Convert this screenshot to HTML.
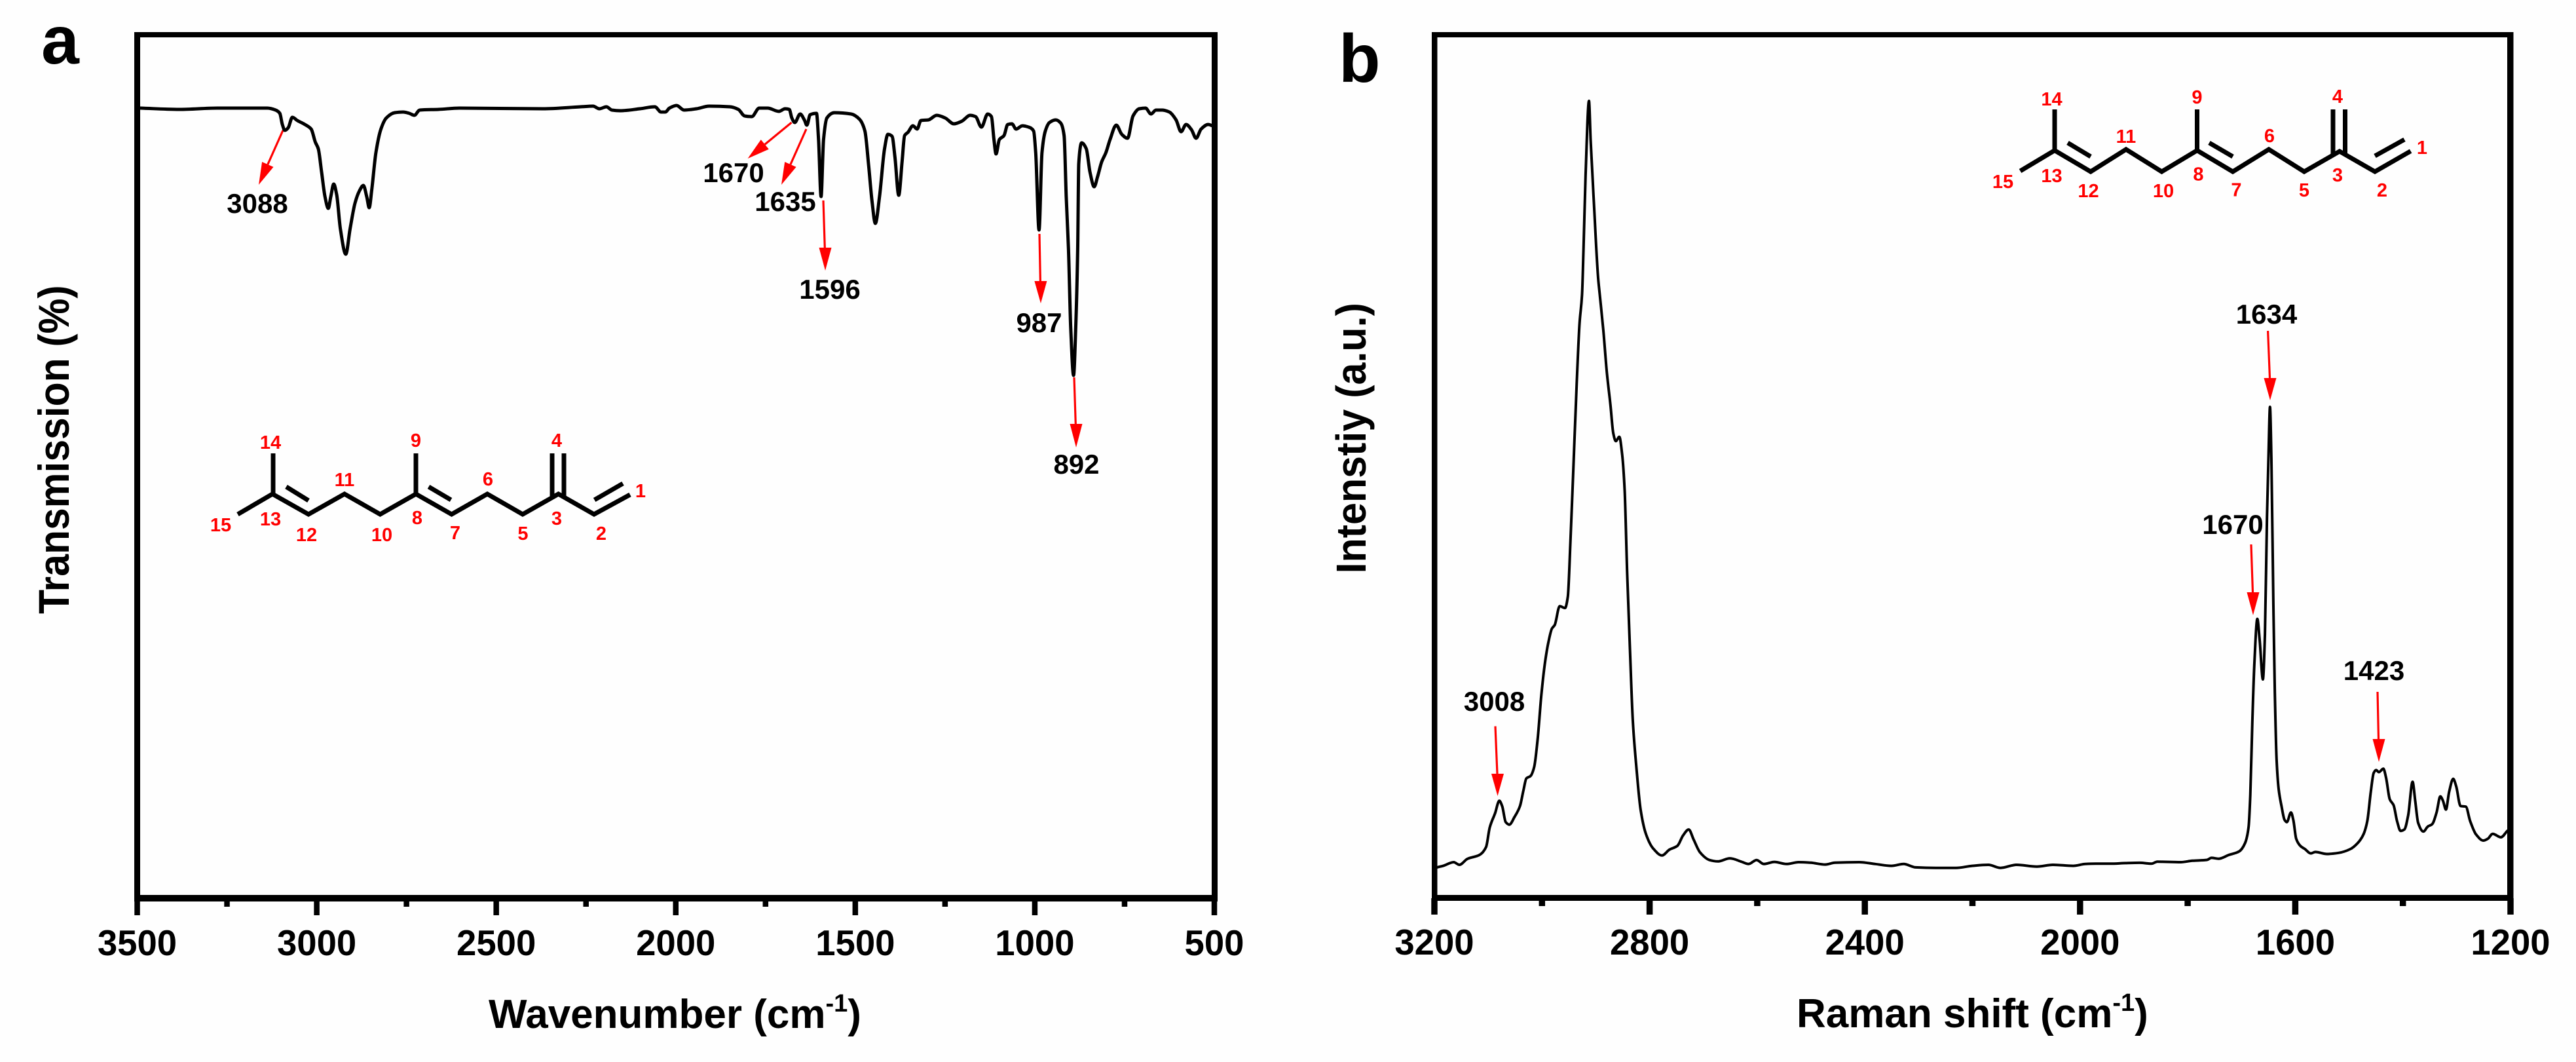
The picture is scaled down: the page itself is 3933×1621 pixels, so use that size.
<!DOCTYPE html>
<html lang="en">
<head>
<meta charset="utf-8">
<title>FTIR and Raman spectra</title>
<style>
html,body{margin:0;padding:0;background:#fefefe;}
svg{display:block;}
text{font-family:"Liberation Sans",Arial,sans-serif;font-weight:bold;fill:#000;}
.ann{font-size:42px;text-anchor:middle;}
.num{font-size:29px;text-anchor:middle;fill:#f00;}
.arr line{stroke:#f00;stroke-width:3.2;}
.arr polygon{fill:#f00;}
.mol{fill:none;stroke:#000;stroke-width:7;stroke-linejoin:miter;}
</style>
</head>
<body>
<svg id="fig" xmlns="http://www.w3.org/2000/svg" width="3933" height="1621" viewBox="0 0 3933 1621">
<rect x="0" y="0" width="3933" height="1621" fill="#fefefe"/>

<g id="panelA">
  <text x="63" y="97" font-size="104">a</text>
  <rect x="205" y="49" width="1654" height="8" fill="#000"/>
  <rect x="205" y="49" width="9" height="1327" fill="#000"/>
  <rect x="1850" y="49" width="9" height="1327" fill="#000"/>
  <rect x="205" y="1366" width="1654" height="10" fill="#000"/>
  <text x="746" y="1569" font-size="62">Wavenumber (cm<tspan font-size="38" dy="-25">-1</tspan><tspan dy="25">)</tspan></text>
  <text transform="translate(105,937) rotate(-90) scale(1,1.09)" x="0" y="0" font-size="60.6">Transmission (%)</text>

  <g class="arr"><line x1="432" y1="199" x2="408.8" y2="251"/><polygon points="395,282 417.5,254.9 400.1,247.1"/></g>
  <text class="ann" x="393" y="325">3088</text>
  <g class="arr"><line x1="1208.5" y1="187" x2="1167.8" y2="220.4"/><polygon points="1141.6,242 1173.8,227.7 1161.8,213.1"/></g>
  <text class="ann" x="1120" y="278">1670</text>
  <g class="arr"><line x1="1231" y1="197" x2="1206.9" y2="251"/><polygon points="1193,282 1215.6,254.9 1198.2,247.1"/></g>
  <text class="ann" x="1199" y="322">1635</text>
  <g class="arr"><line x1="1257" y1="306" x2="1259.3" y2="378"/><polygon points="1260,413 1269.5,378 1250.5,378"/></g>
  <text class="ann" x="1267" y="456">1596</text>
  <g class="arr"><line x1="1587" y1="357" x2="1588.4" y2="429"/><polygon points="1589,463 1598.4,429 1579.4,429"/></g>
  <text class="ann" x="1586.5" y="507">987</text>
  <g class="arr"><line x1="1640" y1="576" x2="1642.3" y2="647"/><polygon points="1643,683 1652.5,647 1633.5,647"/></g>
  <text class="ann" x="1643.5" y="723">892</text>

  <g>
    <polyline class="mol" points="363,785 416,754 471,785 526,754 580.4,785 635,754 689.5,785 744,754 798,785 852.6,754 907,785 962,755"/>
    <line class="mol" x1="417" y1="692" x2="417" y2="755"/>
    <line class="mol" x1="635" y1="692" x2="635" y2="755"/>
    <line class="mol" x1="843" y1="692" x2="843" y2="759"/>
    <line class="mol" x1="861" y1="692" x2="861" y2="759"/>
    <line class="mol" x1="437" y1="743" x2="471" y2="764"/>
    <line class="mol" x1="654.5" y1="743" x2="688.5" y2="763"/>
    <line class="mol" x1="907.6" y1="763" x2="951" y2="738"/>
    <text class="num" x="413" y="685">14</text><text class="num" x="635" y="682">9</text><text class="num" x="850" y="682">4</text>
    <text class="num" x="526" y="742">11</text><text class="num" x="745" y="741">6</text><text class="num" x="978" y="759">1</text>
    <text class="num" x="413" y="802">13</text><text class="num" x="637" y="800">8</text><text class="num" x="850" y="801">3</text>
    <text class="num" x="337" y="811">15</text><text class="num" x="468" y="826">12</text><text class="num" x="583" y="826">10</text>
    <text class="num" x="695" y="823">7</text><text class="num" x="798.5" y="824">5</text><text class="num" x="918" y="824">2</text>
  </g>
</g>

<g id="panelB">
  <text x="2044" y="125" font-size="104">b</text>
  <rect x="2186" y="49" width="1651.5" height="8" fill="#000"/>
  <rect x="2186" y="49" width="8.5" height="1326" fill="#000"/>
  <rect x="3828" y="49" width="9.5" height="1326" fill="#000"/>
  <rect x="2186" y="1366" width="1651.5" height="9" fill="#000"/>
  <text x="2743" y="1568" font-size="62">Raman shift (cm<tspan font-size="38" dy="-25">-1</tspan><tspan dy="25">)</tspan></text>
  <text transform="translate(2085,875.5) rotate(-90) scale(1,1.05)" x="0" y="0" font-size="61">Intenstiy (a.u.)</text>

  <g class="arr"><line x1="2283" y1="1108.5" x2="2286" y2="1181"/><polygon points="2286.5,1215 2296,1181 2277,1181"/></g>
  <text class="ann" x="2281.5" y="1085">3008</text>
  <g class="arr"><line x1="3437" y1="831" x2="3439.5" y2="904"/><polygon points="3440,939 3449.5,904 3430.5,904"/></g>
  <text class="ann" x="3409" y="815">1670</text>
  <g class="arr"><line x1="3630" y1="1056" x2="3631.5" y2="1128"/><polygon points="3632,1163 3641.5,1128 3622.5,1128"/></g>
  <text class="ann" x="3624.5" y="1038">1423</text>
  <g class="arr"><line x1="3462.6" y1="505" x2="3465.5" y2="577"/><polygon points="3466,611 3475.5,577 3456.5,577"/></g>
  <text class="ann" x="3460.5" y="494">1634</text>

  <g>
    <polyline class="mol" points="3084.5,261 3137,229.6 3192,262 3246,228 3300.5,262 3354.5,229.6 3409,262 3464,228 3518,262 3572,231 3626,262 3680.6,230.6"/>
    <line class="mol" x1="3137" y1="167" x2="3137" y2="231"/>
    <line class="mol" x1="3354.5" y1="167" x2="3354.5" y2="231"/>
    <line class="mol" x1="3562" y1="167" x2="3562" y2="236"/>
    <line class="mol" x1="3580.5" y1="167" x2="3580.5" y2="236"/>
    <line class="mol" x1="3157" y1="218" x2="3192" y2="239"/>
    <line class="mol" x1="3373" y1="218" x2="3409" y2="239"/>
    <line class="mol" x1="3626" y1="238" x2="3671" y2="213"/>
    <text class="num" x="3132.5" y="161">14</text><text class="num" x="3354.5" y="158">9</text><text class="num" x="3569" y="157">4</text>
    <text class="num" x="3246" y="218">11</text><text class="num" x="3465" y="217">6</text><text class="num" x="3698" y="235">1</text>
    <text class="num" x="3132.5" y="278">13</text><text class="num" x="3356.5" y="275.5">8</text><text class="num" x="3569" y="277">3</text>
    <text class="num" x="3058" y="287">15</text><text class="num" x="3188.5" y="301">12</text><text class="num" x="3303" y="301">10</text>
    <text class="num" x="3414.5" y="299.5">7</text><text class="num" x="3518" y="300">5</text><text class="num" x="3637" y="300">2</text>
  </g>
</g>

<script>
const ftirMajorTicks = [3500, 3000, 2500, 2000, 1500, 1000, 500];
const ftirMinorTicks = [3250, 2750, 2250, 1750, 1250, 750];
const ramanMajorTicks = [3200, 2800, 2400, 2000, 1600, 1200];
const ramanMinorTicks = [3000, 2600, 2200, 1800, 1400];

const ftirWavenumber = [
3491.3,3381.9,3277.2,3137.7,3114.4,3102.8,3095.8,3088.8,3079.5,3067.9,
3053.9,3033,3015.5,3003.9,2995.7,2986.4,2977.1,2967.8,2960.8,2952.7,
2944.5,2934,2919,2907.3,2893.4,2881.7,2870.1,2860.8,2853.8,2846.8,
2835.2,2821.2,2806.1,2782.9,2759.6,2742.2,2728.2,2713.1,2660.7,2602.6,
2370,2265.3,2230.4,2212.9,2193.1,2178,2154.7,2100,2058.3,2040.9,
2029.2,2017.6,1997.8,1976.9,1942,1907.1,1848.9,1825.7,1808.2,1788.4,
1767.5,1744.2,1712.8,1695.4,1683.8,1676.8,1668.6,1653.5,1641.9,1634.9,
1625.6,1608.1,1602.3,1595.3,1588.4,1579,1558.1,1511.6,1488.3,1473.2,
1462.7,1453.4,1444.1,1432.5,1418.5,1409.2,1397.6,1389.5,1379,1369.7,
1362.7,1353.4,1339.4,1327.8,1317.3,1296.4,1273.1,1249.9,1225.4,1203.3,
1180.1,1165,1148.7,1131.2,1120.8,1113.8,1108,1098.7,1085.9,1075.4,
1063.8,1052.1,1034.7,1017.2,1003.3,997.5,988.2,980,970.7,959.1,
941.7,927.6,918.4,912.5,906.2,900,892,886,880.5,877.6,
869.5,856.7,846.2,834.6,825.3,813.7,802,790.4,773,757.8,
741.6,726.4,709,691.5,676.4,662.5,645,625.2,606.6,592.6,
578.7,563.6,550.8,536.8,517,505.4];
const ftirTransmission = [
120.6,120.4,120.6,120.6,120.3,119.8,118.1,117.2,117.6,119.2,
118.7,118.1,117.4,115.4,114.4,110.8,107.1,105.3,107.1,109,
107.4,102.1,98.3,102.1,106.1,107.9,108.8,107.1,105.4,108.1,
113.8,117.4,119.1,119.9,120,119.8,119.5,120.3,120.4,120.6,
120.5,120.8,120.9,120.5,120.8,120.3,120.2,120.5,120.8,120,
120,120.6,121,120.3,120.5,120.9,120.8,120.4,119.4,119.3,
120.6,120.6,120.1,120.5,120.4,119.1,118.4,119.7,118.8,118,
119.6,119.8,115.8,107.1,115.8,119.1,119.9,119.7,118.9,117.1,
111.8,106.4,103,107.1,114.4,116.6,116.3,113.1,107.3,112.4,
116.4,116.9,117.9,117.4,118.7,118.8,119.5,119.1,118.2,118.6,
119.5,119.3,117.7,119.7,119.3,115.8,113.6,115.8,116.4,118.1,
118.2,117.4,117.9,117.7,117.1,113.8,102,113.8,117.1,118.4,
118.8,118.3,116.4,107.1,99.1,87.1,79.8,87.1,99.1,112.1,
115.3,114.4,110.8,108.6,110.1,112.4,113.8,115.8,118,116.6,
116,119.4,120.5,120.6,119.7,120.3,120.3,120,118.8,117,
118.1,117.3,116,117.4,118.1,117.9];

const ramanShift = [
3195.6,3183.6,3164.1,3153.6,3138.6,3116.1,3104,3097.1,3087.2,3079.3,
3074,3067.4,3060.8,3050.9,3041,3034.4,3029.1,3021.2,3014.6,3008,
3001.4,2994.8,2988.3,2981.6,2976.4,2967.1,2957.2,2952,2947.3,2942,
2935.5,2930.2,2925.6,2922.8,2919,2912.7,2909.6,2903.4,2895.7,2892.6,
2886,2879.4,2872.8,2867.5,2862.9,2856.3,2851,2846.4,2841.8,2836.5,
2831.2,2824.6,2816.7,2806.8,2793.5,2776.9,2763.4,2748.3,2737.8,2727.3,
2718.3,2706.3,2688.3,2673.3,2650.8,2628.3,2616.2,2601.2,2587.7,2568.2,
2545.7,2523.2,2500.7,2473.6,2455.7,2410.6,2380.6,2350.6,2328,2305.6,
2268,2230.5,2200.5,2170.5,2148,2118,2080.4,2050.4,2012.9,1990.3,
1970.5,1943.3,1916.2,1889,1867.3,1856.4,1812.9,1791.2,1764,1755.9,
1742.3,1723.3,1704.2,1693.4,1686.8,1683.6,1679.8,1676,1670.5,1666.2,
1660.2,1656.4,1652.6,1649.9,1647,1644.4,1640.7,1638,1634.7,1630.9,
1625.4,1620,1615.7,1608,1603.7,1598.3,1590.1,1582,1571.1,1562.9,
1541.2,1519.5,1497.7,1484.2,1473.3,1466.2,1459.7,1454.3,1449.9,1444.5,
1436.3,1431.4,1424.4,1417.3,1410.8,1404.3,1397.2,1390.2,1382,1377.1,
1371.7,1361.9,1353.7,1345.6,1337.4,1330.4,1325.5,1320,1314.1,1306.5,
1301,1292.9,1283.1,1274.9,1264.1,1250.5,1242.3,1233.1,1217.9,1206];
const ramanIntensity = [
47,49.4,55,51,60.1,66.1,78,108,129.7,148.7,
140.5,116.1,112.3,124.3,140.5,164.9,182.8,186.6,200.1,243.5,
308.5,357.3,389.8,411.5,417,445.7,443,460.3,541.6,650,
785.5,877.6,921,992,1103,1217,1157,1059,947,921,
866.8,801.8,753,709.6,697.7,704.2,677.1,622.9,498.2,379,
270.6,200.1,135.1,98,76,65.3,74,80,95.8,104.9,
89.8,70,58.2,56.2,60.9,55.4,52.2,58.2,52.2,55.4,
52.2,55,54.2,51.4,54.2,55,52.2,49.4,52.2,47.1,
46.3,46.3,49.4,51,46.3,51,48.3,51,49.4,52.2,
52.7,52.7,53.6,54.1,52.7,55.8,55,57.2,58.5,61.6,
60.3,66.1,71.5,84,108.5,157.6,269.2,358.5,426.4,394.2,
334,403.2,581.7,671,750,671,447.8,313.9,211.2,166.6,
139.8,119.7,116.1,130.9,119.7,90.7,79.5,75,68.4,70.6,
67.5,69.2,75,84,97.4,117.5,162.1,191.1,195.6,192.5,
197.8,184.4,151,142,117.5,102.7,105,126.4,177.7,148.7,
115.2,101.8,109.4,113,130.9,155.4,148.7,135.3,162.1,182.2,
171,140.7,139.8,117.5,97.4,88,90.7,98.3,93,102.7];

const SVGNS = 'http://www.w3.org/2000/svg';
function scale(d0, d1, r0, r1) {
  return function (v) { return r0 + (v - d0) / (d1 - d0) * (r1 - r0); };
}
const xA = scale(3500, 500, 209.5, 1854);
const yA = scale(0, 131.8, 1371, 53);
const xB = scale(3200, 1200, 2190, 3833);
const yB = scale(0, 1318, 1371, 53);

function monotonePath(px, py) {
  const n = px.length, dx = [], m = [], t = [];
  for (let i = 0; i < n - 1; i++) {
    dx[i] = px[i + 1] - px[i];
    m[i] = (py[i + 1] - py[i]) / dx[i];
  }
  t[0] = m[0];
  t[n - 1] = m[n - 2];
  for (let i = 1; i < n - 1; i++) {
    if (m[i - 1] * m[i] <= 0) { t[i] = 0; }
    else {
      const w1 = 2 * dx[i] + dx[i - 1], w2 = dx[i] + 2 * dx[i - 1];
      t[i] = (w1 + w2) / (w1 / m[i - 1] + w2 / m[i]);
    }
  }
  let d = 'M' + px[0].toFixed(2) + ' ' + py[0].toFixed(2);
  for (let i = 0; i < n - 1; i++) {
    const h = dx[i] / 3;
    d += 'C' + (px[i] + h).toFixed(2) + ' ' + (py[i] + t[i] * h).toFixed(2) + ' ' +
         (px[i + 1] - h).toFixed(2) + ' ' + (py[i + 1] - t[i + 1] * h).toFixed(2) + ' ' +
         px[i + 1].toFixed(2) + ' ' + py[i + 1].toFixed(2);
  }
  return d;
}

function drawTicks(parent, ticks, xFn, y0, y1, width) {
  ticks.forEach(function (v) {
    const r = document.createElementNS(SVGNS, 'rect');
    
    
    r.setAttribute('x', xFn(v) - width / 2);
    r.setAttribute('y', y0);
    r.setAttribute('width', width);
    r.setAttribute('height', y1 - y0);
    r.setAttribute('fill', '#000');
    parent.appendChild(r);
  });
}
function drawLabels(parent, ticks, xFn, baseline) {
  ticks.forEach(function (v) {
    const t = document.createElementNS(SVGNS, 'text');
    
    
    t.setAttribute('x', xFn(v));
    t.setAttribute('y', baseline);
    t.setAttribute('font-size', '54.5');
    t.setAttribute('text-anchor', 'middle');
    t.textContent = String(v);
    parent.appendChild(t);
  });
}
function drawLine(parent, name, xs, ys, xFn, yFn, width) {
  const p = document.createElementNS(SVGNS, 'path');
  
  
  p.setAttribute('d', monotonePath(xs.map(xFn), ys.map(yFn)));
  p.setAttribute('fill', 'none');
  p.setAttribute('stroke', '#000');
  p.setAttribute('stroke-width', width);
  p.setAttribute('stroke-linejoin', 'round');
  p.setAttribute('stroke-linecap', 'round');
  parent.appendChild(p);
}

const panelA = document.getElementById('panelA');
const panelB = document.getElementById('panelB');
drawTicks(panelA, ftirMajorTicks, xA, 1372, 1397, 8.5);
drawTicks(panelA, ftirMinorTicks, xA, 1372, 1384, 8.5);
drawLabels(panelA, ftirMajorTicks, xA, 1458);
drawLine(panelA, 'ftir-spectrum-line', ftirWavenumber, ftirTransmission, xA, yA, 5);
drawTicks(panelB, ramanMajorTicks, xB, 1371, 1396, 9.5);
drawTicks(panelB, ramanMinorTicks, xB, 1371, 1383, 9.5);
drawLabels(panelB, ramanMajorTicks, xB, 1457);
drawLine(panelB, 'raman-spectrum-line', ramanShift, ramanIntensity, xB, yB, 4);
</script>
</svg>
</body>
</html>
